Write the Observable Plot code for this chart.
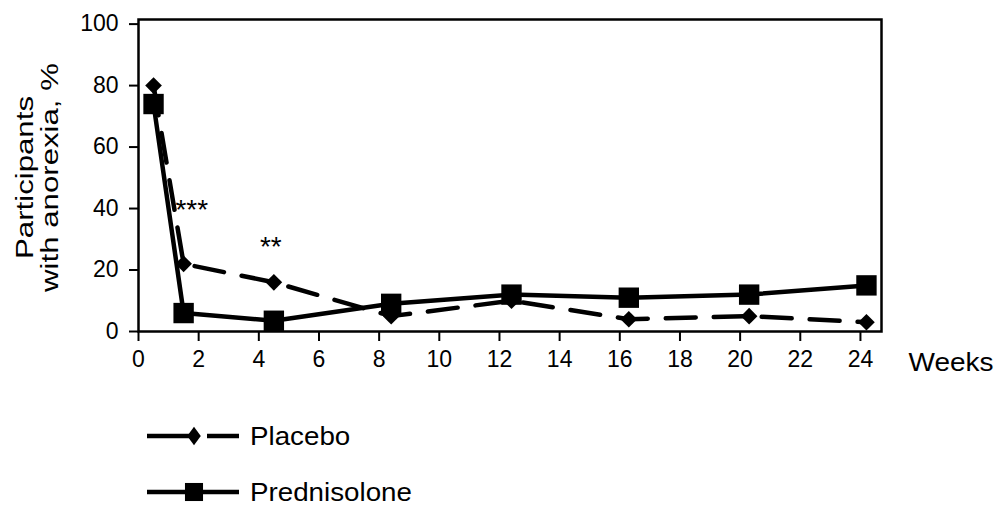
<!DOCTYPE html>
<html>
<head>
<meta charset="utf-8">
<script src="https://cdn.jsdelivr.net/npm/d3@7"></script>
<script src="https://cdn.jsdelivr.net/npm/@observablehq/plot@0.6"></script>
<style>
  html, body { margin: 0; padding: 0; background: #fff; }
  #chart svg { display: block; }
</style>
</head>
<body>
<div id="chart"></div>
<script>
const weeks = [0.5, 1.5, 4.5, 8.4, 12.4, 16.3, 20.3, 24.2];
const placebo = [80, 22, 16, 5, 10, 4, 5, 3];
const prednisolone = [74, 6, 3.5, 9, 12, 11, 12, 15];
const seriesNames = ["Placebo", "Prednisolone"];
const xTicks = [0, 2, 4, 6, 8, 10, 12, 14, 16, 18, 20, 22, 24];
const yTicks = [0, 20, 40, 60, 80, 100];
const annotText = ["***", "**"];
const annotX = [1.77, 4.4];
const annotY = [43, 31];
const yLabel = "Participants\nwith anorexia, %";
const xLabel = "Weeks";

const font = "'Liberation Sans', Arial, sans-serif";
const plRows = weeks.map((w, i) => ({x: w, y: placebo[i]}));
const prRows = weeks.map((w, i) => ({x: w, y: prednisolone[i]}));
const annots = annotText.map((t, i) => ({x: annotX[i], y: annotY[i], t}));

const chart = Plot.plot({
  width: 1001, height: 400,
  marginLeft: 138, marginRight: 120, marginTop: 19, marginBottom: 69,
  style: {fontFamily: font, fontSize: "23px", color: "#000", background: "#fff", overflow: "visible"},
  x: {domain: [0, 24.7], label: null},
  y: {domain: [0, 101.5], label: null},
  marks: [
    Plot.axisX({ticks: xTicks, tickSize: 10, tickPadding: 9, strokeWidth: 2, fontSize: 23, label: null}),
    Plot.axisY({ticks: yTicks, tickSize: 9, tickPadding: 11, strokeWidth: 2, fontSize: 23, label: null}),
    Plot.frame({stroke: "#000", strokeWidth: 2.5}),
    Plot.line(plRows, {x: "x", y: "y", stroke: "#000", strokeWidth: 4.5, strokeDasharray: "30,18"}),
    Plot.line(prRows, {x: "x", y: "y", stroke: "#000", strokeWidth: 4.5}),
    Plot.dot(plRows, {x: "x", y: "y", symbol: "diamond2", r: 7.5, fill: "#000"}),
    Plot.dot(prRows, {x: "x", y: "y", symbol: "square", r: 11.5, fill: "#000"}),
    Plot.text(annots, {x: "x", y: "y", text: "t", fontSize: 28, lineAnchor: "top", fill: "#000"}),
    Plot.text([yLabel], {frameAnchor: "left", rotate: -90, textAnchor: "middle", lineAnchor: "middle",
      lineHeight: 1.04, dx: -101, dy: 2, fontSize: 24, fill: "#000"}),
    Plot.text([xLabel], {frameAnchor: "bottom-right", textAnchor: "start", lineAnchor: "middle",
      dx: 27, dy: 31, fontSize: 25, fill: "#000"})
  ]
});
// the reference typeface runs wider than Liberation Sans: stretch along the text direction
d3.select(chart).selectAll("text").each(function() {
  const t = this.textContent;
  const el = d3.select(this);
  const tr = el.attr("transform") || "";
  if (t.startsWith("Participants")) el.attr("transform", tr + " scale(1.3,1)");
  else if (t === xLabel) el.attr("transform", tr + " scale(1.12,1)").attr("text-anchor", "start");
});
document.getElementById("chart").appendChild(chart);

// legend below the plot
const leg = d3.create("svg").attr("width", 1001).attr("height", 107)
  .style("display", "block").style("font-family", font);
const rowsY = [36, 92];
seriesNames.forEach((name, i) => {
  const g = leg.append("g").attr("transform", `translate(0,${rowsY[i]})`);
  if (i === 0) {
    g.append("line").attr("x1", 147).attr("x2", 190).attr("stroke", "#000").attr("stroke-width", 4.5);
    g.append("line").attr("x1", 207).attr("x2", 239).attr("stroke", "#000").attr("stroke-width", 4.5);
    g.append("path").attr("d", d3.symbol(d3.symbolDiamond2, 7.2 * 7.2 * Math.PI)())
      .attr("transform", "translate(194,0) scale(0.85,1.15)").attr("fill", "#000");
  } else {
    g.append("line").attr("x1", 147).attr("x2", 239).attr("stroke", "#000").attr("stroke-width", 4.5);
    g.append("path").attr("d", d3.symbol(d3.symbolSquare2, 11.5 * 11.5 * Math.PI)())
      .attr("transform", "translate(194,0)").attr("fill", "#000");
  }
  g.append("text").attr("transform", "translate(250,0) scale(1.11,1)").attr("dy", "0.35em")
    .attr("font-size", 25).attr("fill", "#000").text(name);
});
document.getElementById("chart").appendChild(leg.node());
</script>
</body>
</html>
